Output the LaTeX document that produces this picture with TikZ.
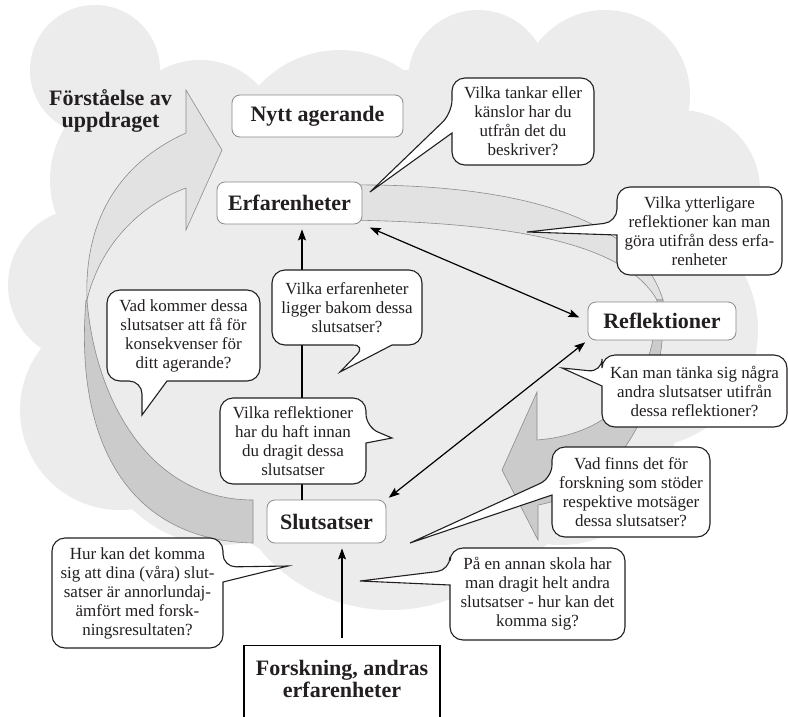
\documentclass[tikz,border=0pt]{standalone}
\usepackage{fontspec}
\setmainfont{Liberation Serif}
\usetikzlibrary{arrows.meta}
\definecolor{cloudgray}{HTML}{ECECEC}
\definecolor{ribbonlight}{HTML}{E2E2E2}
\definecolor{ribbondark}{HTML}{CBCBCB}
\definecolor{ribbonline}{HTML}{8C8C8C}
\definecolor{boxline}{HTML}{8A8A8A}
\definecolor{ink}{HTML}{231F20}
\begin{document}
\begin{tikzpicture}[x=1pt,y=-1pt,
  title/.style={font=\fontsize{22}{22}\selectfont\bfseries, text=ink, align=center},
  mainbox/.style={draw=boxline, line width=0.8pt, fill=white, rounded corners=8pt, inner sep=0pt, title},
  balloon/.style={draw=ink, line width=1.1pt, fill=white, line join=miter},
  btext/.style={font=\fontsize{17}{19}\selectfont, text=ink, align=center, inner sep=0pt},
  ribbonA/.style={fill=ribbonlight, draw=ribbonline, line width=0.6pt},
  ribbonB/.style={fill=ribbondark, draw=ribbonline, line width=0.6pt},
  tip/.style={Stealth[length=11pt,width=8pt,inset=2pt]},
  conn/.style={draw=black, line width=1.2pt, -{Stealth[length=11pt,width=8pt,inset=2pt]}},
  conn2/.style={draw=black, line width=1.2pt, {Stealth[length=11pt,width=8pt,inset=2pt]}-{Stealth[length=11pt,width=8pt,inset=2pt]}},
]
\useasboundingbox (0,0) rectangle (788,716);
\fill[white] (0,0) rectangle (788,716);
% cloud background
\fill[cloudgray] (95,70) circle[radius=65pt] (150,180) circle[radius=100pt]
  (200,140) circle[radius=80pt] (340,160) circle[radius=110pt]
  (478,80) circle[radius=70pt] (605,95) circle[radius=85pt]
  (680,190) circle[radius=80pt] (640,330) circle[radius=118pt]
  (560,430) circle[radius=115pt] (390,440) circle[radius=170pt]
  (85,285) circle[radius=77pt] (120,410) circle[radius=100pt]
  (220,420) circle[radius=125pt] (400,330) circle[radius=260pt];
% left ribbon arrow
\path[ribbonB] (87,300) .. controls (95,400) and (150,500) .. (253,500) -- (253,543)
  .. controls (120,540) and (75,430) .. (86,300) -- cycle;
\path[ribbonA] (186,90) -- (222,150) -- (186,230) -- (186,188)
  .. controls (140,205) and (100,245) .. (87,300)
  .. controls (84,225) and (115,165) .. (186,133) -- cycle;
% right ribbon arrow
\path[ribbonA] (345,185) .. controls (520,183) and (638,218) .. (663,300) -- (657,300)
  .. controls (620,235) and (480,222) .. (345,220) -- cycle;
\path[ribbonB] (663,300) .. controls (668,400) and (620,490) .. (538,505) -- (538,540)
  -- (502,470) -- (537,392) -- (537,440) .. controls (600,435) and (655,400) .. (657,300) -- cycle;
% main boxes
\node[mainbox, minimum width=171pt, minimum height=42pt] (nytt) at (317.5,116) {Nytt agerande};
\node[mainbox, minimum width=145pt, minimum height=42pt] (erf) at (289.5,203) {Erfarenheter};
\node[mainbox, minimum width=148pt, minimum height=38pt] (refl) at (662,321) {Reflektioner};
\node[mainbox, minimum width=119pt, minimum height=43pt] (slut) at (326.5,521.5) {Slutsatser};
\node[title, draw=black, line width=1.2pt, fill=white, minimum width=196pt, minimum height=80pt,
  text depth=13pt, anchor=north] (forsk) at (342,645) {Forskning, andras\\erfarenheter};
\node[title] (forst) at (110.5,111) {Förståelse av\\uppdraget};
% connectors
\coordinate (vx) at (302,0);
\draw[conn, shorten >=5pt] (slut.north -| vx) -- (erf.south -| vx);
\draw[conn, shorten <=7pt, shorten >=5pt] (forsk.north) -- (forsk.north |- slut.south);
\draw[conn2, shorten <=8pt, shorten >=9pt] (erf.south east) -- (refl.west);
\draw[conn2, shorten <=3pt, shorten >=3pt] (slut.north east) -- (refl.south west);
% callouts
\draw[balloon] (452,133) [rounded corners=13pt] -- (452,165) -- (594,165) -- (594,78) -- (452,78) -- (452,113) [sharp corners] -- (370,192) -- cycle;
\node[btext] (q1) at (523,121.5) {Vilka tankar eller\\känslor har du\\utfrån det du\\beskriver?};
\draw[balloon] (617,235) [rounded corners=13pt] -- (617,275) -- (782,275) -- (782,187) -- (617,187) -- (617,222) [sharp corners] -- (527,232) -- cycle;
\node[btext] (q2) at (699.5,231) {Vilka ytterligare\\reflektioner kan man\\göra utifrån dess erfa-\\renheter};
\draw[balloon] (392,345) [rounded corners=13pt] -- (422,345) -- (422,270) -- (272,270) -- (272,345) -- (366,345) [sharp corners] -- (340,372) -- cycle;
\node[btext] (q3) at (347,307.5) {Vilka erfarenheter\\ligger bakom dessa\\slutsatser?};
\draw[balloon] (167,381) [rounded corners=13pt] -- (260,381) -- (260,290) -- (107,290) -- (107,381) -- (142,381) [sharp corners] -- (142,415) -- cycle;
\node[btext] (q4) at (183.5,335.5) {Vad kommer dessa\\slutsatser att få för\\konsekvenser för\\ditt agerande?};
\draw[balloon] (366,443) [rounded corners=13pt] -- (366,484) -- (220,484) -- (220,398) -- (366,398) -- (366,427) [sharp corners] -- (392,438) -- cycle;
\node[btext] (q5) at (293,441) {Vilka reflektioner\\har du haft innan\\du dragit dessa\\slutsatser};
\draw[balloon] (602,386) [rounded corners=13pt] -- (602,427) -- (787,427) -- (787,355) -- (602,355) -- (602,372) [sharp corners] -- (562,368) -- cycle;
\node[btext] (q6) at (694.5,391) {Kan man tänka sig några\\andra slutsatser utifrån\\dessa reflektioner?};
\draw[balloon] (552,495) [rounded corners=13pt] -- (552,537) -- (710,537) -- (710,447) -- (552,447) -- (552,478) [sharp corners] -- (410,543) -- cycle;
\node[btext] (q7) at (631,492) {Vad finns det för\\forskning som stöder\\respektive motsäger\\dessa slutsatser?};
\draw[balloon] (223,582) [rounded corners=13pt] -- (223,648) -- (52,648) -- (52,538) -- (223,538) -- (223,567) [sharp corners] -- (288,566) -- cycle;
\node[btext] (q8) at (137.5,593) {Hur kan det komma\\sig att dina (våra) slut-\\satser är annorlundaj-\\ämfört med forsk-\\ningsresultaten?};
\draw[balloon] (450,585) [rounded corners=13pt] -- (450,640) -- (625,640) -- (625,548) -- (450,548) -- (450,570) [sharp corners] -- (360,581) -- cycle;
\node[btext] (q9) at (537.5,594) {På en annan skola har\\man dragit helt andra\\slutsatser - hur kan det\\komma sig?};
\end{tikzpicture}
\end{document}
